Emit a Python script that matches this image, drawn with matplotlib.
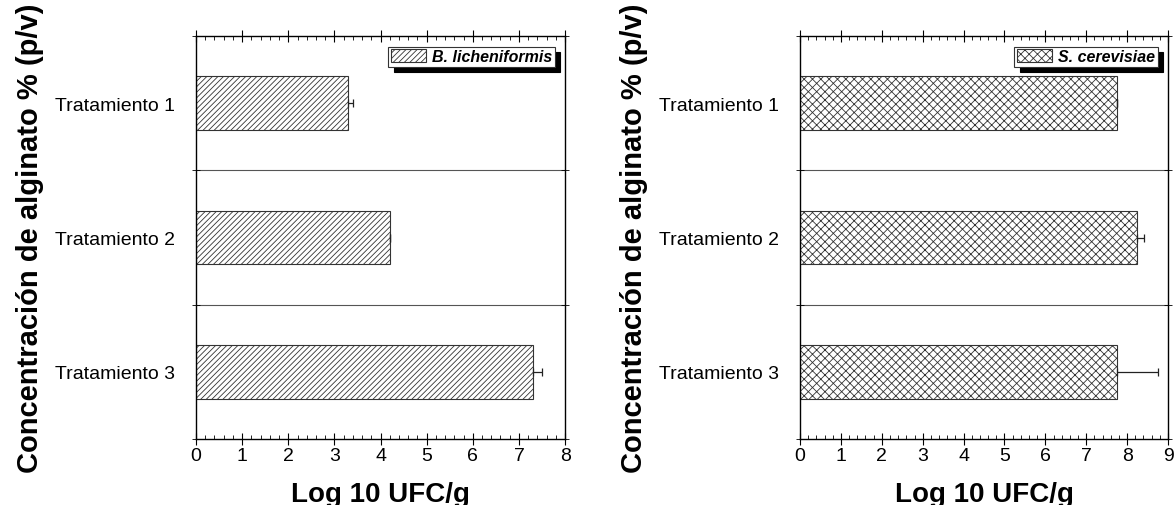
import numpy as np
import matplotlib
matplotlib.use('Agg')
import matplotlib.pyplot as plt
from matplotlib.patches import Patch
from matplotlib.ticker import MultipleLocator

plt.rcParams['font.family'] = ['Liberation Sans', 'DejaVu Sans']
plt.rcParams['hatch.linewidth'] = 0.6

categories = ['Tratamiento 1', 'Tratamiento 2', 'Tratamiento 3']
bl_values = [3.3, 4.2, 7.3]
bl_errors = [0.1, 0.0, 0.2]
sc_values = [7.75, 8.25, 7.75]
sc_errors = [0.0, 0.17, 1.0]

panels = [
    ([0.1667, 0.1304, 0.3138, 0.7965], bl_values, bl_errors, '//////', 'B. licheniformis', 8),
    ([0.6803, 0.1304, 0.3129, 0.7965], sc_values, sc_errors, 'xxxx', 'S. cerevisiae', 9),
]

fig = plt.figure(figsize=(11.76, 5.06), dpi=100)

for rect, vals, errs, hatch, name, xmax in panels:
    ax = fig.add_axes(rect)
    y = np.arange(len(categories))
    ax.barh(y, vals, height=0.4, color='white', edgecolor='#333333',
            linewidth=0.8, hatch=hatch, zorder=2)
    ax.errorbar(vals, y, xerr=[np.zeros(len(errs)), errs], fmt='none',
                ecolor='#222222', elinewidth=0.9, capsize=3, capthick=0.9, zorder=3)
    for b in [0.5, 1.5]:
        ax.axhline(b, color='#555555', linewidth=0.8, zorder=1)
    ax.set_ylim(2.5, -0.5)
    ax.set_xlim(0, xmax)
    ax.set_yticks(y)
    ax.set_yticklabels(categories, fontsize=14)
    ax.set_yticks([-0.5, 0.5, 1.5, 2.5], minor=True)
    ax.tick_params(axis='y', which='major', length=0, pad=15)
    ax.tick_params(axis='y', which='minor', direction='inout', length=6, right=True)
    ax.xaxis.set_major_locator(MultipleLocator(1))
    ax.xaxis.set_minor_locator(MultipleLocator(0.2))
    ax.tick_params(axis='x', which='major', direction='inout', length=8, top=True,
                   labelsize=14, pad=2)
    ax.tick_params(axis='x', which='minor', direction='in', length=3, top=True)
    for s in ax.spines.values():
        s.set_linewidth(1.0)
    ax.set_xlabel('Log 10 UFC/g', fontsize=20, fontweight='bold', labelpad=12)
    ax.set_ylabel('Concentración de alginato % (p/v)', fontsize=21, fontweight='bold', labelpad=8)
    leg = ax.legend([Patch(facecolor='white', edgecolor='#333333', hatch=hatch, linewidth=0.8)],
                    [name], loc='upper right', bbox_to_anchor=(0.985, 0.985),
                    prop={'style': 'italic', 'weight': 'bold', 'size': 11.5},
                    frameon=True, fancybox=False,
                    shadow={'color': 'black', 'alpha': 1, 'ox': 4, 'oy': -4},
                    handlelength=2.2, handleheight=0.9, handletextpad=0.4,
                    borderpad=0.15, borderaxespad=0.3)
    leg.get_frame().set_edgecolor('#333333')
    leg.get_frame().set_linewidth(0.8)

fig.savefig('out.png', dpi=100)
